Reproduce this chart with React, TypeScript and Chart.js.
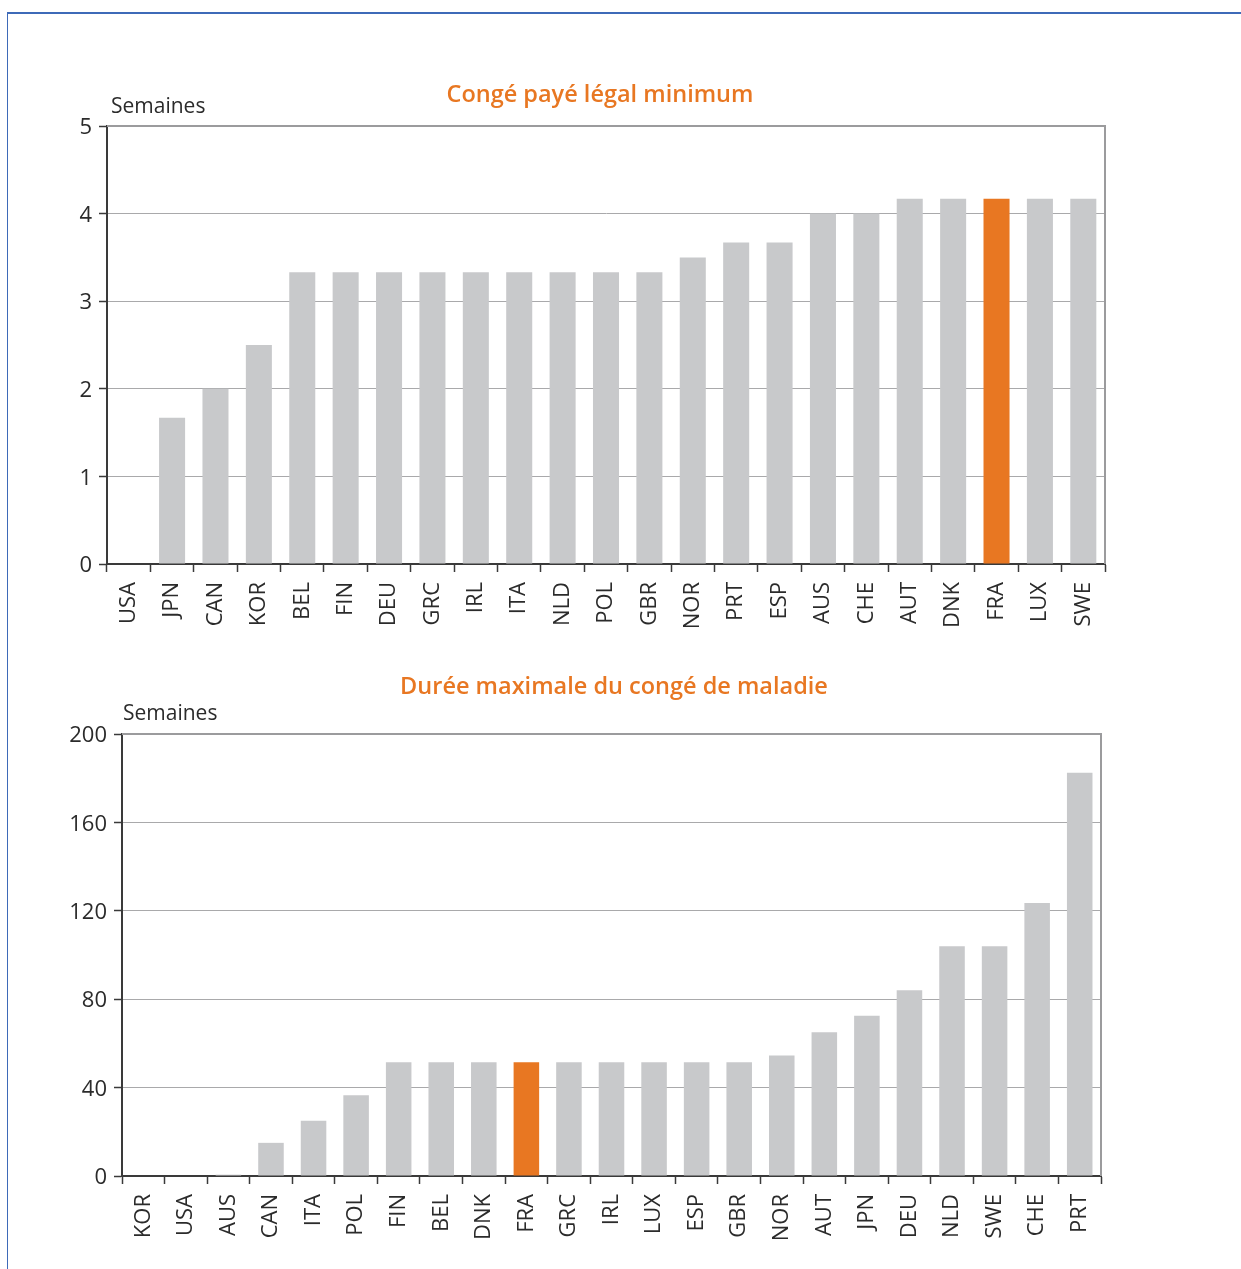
import React, { useEffect, useRef } from 'react';
import { Chart, registerables } from 'chart.js';

Chart.register(...registerables);

// ---- Data ----
const leaveTitle = 'Congé payé légal minimum';
const leaveCountries = ['USA', 'JPN', 'CAN', 'KOR', 'BEL', 'FIN', 'DEU', 'GRC', 'IRL', 'ITA', 'NLD', 'POL', 'GBR', 'NOR', 'PRT', 'ESP', 'AUS', 'CHE', 'AUT', 'DNK', 'FRA', 'LUX', 'SWE'];
const leaveWeeks = [0, 1.67, 2, 2.5, 3.33, 3.33, 3.33, 3.33, 3.33, 3.33, 3.33, 3.33, 3.33, 3.5, 3.67, 3.67, 4, 4, 4.17, 4.17, 4.17, 4.17, 4.17];
const leaveTicks = [0, 1, 2, 3, 4, 5];

const sickTitle = 'Durée maximale du congé de maladie';
const sickCountries = ['KOR', 'USA', 'AUS', 'CAN', 'ITA', 'POL', 'FIN', 'BEL', 'DNK', 'FRA', 'GRC', 'IRL', 'LUX', 'ESP', 'GBR', 'NOR', 'AUT', 'JPN', 'DEU', 'NLD', 'SWE', 'CHE', 'PRT'];
const sickWeeks = [0, 0, 0.6, 15, 25, 36.5, 51.5, 51.5, 51.5, 51.5, 51.5, 51.5, 51.5, 51.5, 51.5, 54.5, 65, 72.5, 84, 104, 104, 123.5, 182.5];
const sickTicks = [0, 40, 80, 120, 160, 200];

const unitLabel = 'Semaines';
const highlightCountry = 'FRA';

// ---- Styles ----
const FONT = '"Open Sans", "Noto Sans", sans-serif';
const GREY_BAR = '#c8c9cb';
const ORANGE = '#e87722';
const AXIS = '#3a3a3a';
const GRID = '#a9a9ab';
const TEXT = '#2b2b2b';

const decorPlugin = {
  id: 'decor',
  afterDraw(chart: any, _args: any, opts: any) {
    const { ctx, chartArea: a } = chart;
    ctx.save();
    ctx.strokeStyle = '#9b9b9d';
    ctx.lineWidth = 2;
    ctx.beginPath();
    ctx.moveTo(a.left, a.top);
    ctx.lineTo(a.right, a.top);
    ctx.lineTo(a.right, a.bottom);
    ctx.stroke();

    ctx.fillStyle = ORANGE;
    ctx.font = `600 23.5px ${FONT}`;
    ctx.textAlign = 'center';
    ctx.textBaseline = 'middle';
    ctx.fillText(opts.title, opts.titleX, a.top + opts.titleDy);

    ctx.fillStyle = TEXT;
    ctx.font = `21px ${FONT}`;
    ctx.textAlign = 'left';
    ctx.fillText(unitLabel, a.left + opts.unitDx, a.top + opts.unitDy);
    ctx.restore();
  },
};

type Spec = {
  title: string;
  labels: string[];
  values: number[];
  ticks: number[];
  top: number;
  height: number;
  padTop: number;
  padRight: number;
  yWidth: number;
  xHeight: number;
  titleX: number;
  titleDy: number;
  unitDx: number;
  unitDy: number;
};

function BarPanel({ spec }: { spec: Spec }) {
  const ref = useRef<HTMLCanvasElement | null>(null);
  useEffect(() => {
    if (!ref.current) return;
    const chart = new Chart(ref.current, {
      type: 'bar',
      data: {
        labels: spec.labels,
        datasets: [
          {
            data: spec.values,
            backgroundColor: spec.labels.map((c) => (c === highlightCountry ? ORANGE : GREY_BAR)),
            borderWidth: 0,
            categoryPercentage: 1,
            barPercentage: 0.6,
          },
        ],
      },
      options: {
        responsive: false,
        animation: false,
        events: [],
        layout: { padding: { top: spec.padTop, right: spec.padRight, left: 0, bottom: 0 } },
        plugins: {
          legend: { display: false },
          tooltip: { enabled: false },
          title: { display: false },
          decor: {
            title: spec.title,
            titleX: spec.titleX,
            titleDy: spec.titleDy,
            unitDx: spec.unitDx,
            unitDy: spec.unitDy,
          },
        } as any,
        scales: {
          x: {
            grid: {
              display: true,
              offset: true,
              drawOnChartArea: false,
              drawTicks: true,
              tickLength: 8,
              tickColor: AXIS,
              tickWidth: 1.5,
            },
            border: { display: true, color: AXIS, width: 2 },
            ticks: {
              autoSkip: false,
              minRotation: 90,
              maxRotation: 90,
              padding: 10,
              color: TEXT,
              font: { family: FONT, size: 22 },
            },
            afterFit: (scale: any) => {
              scale.height = spec.xHeight;
            },
          },
          y: {
            min: spec.ticks[0],
            max: spec.ticks[spec.ticks.length - 1],
            afterBuildTicks: (scale: any) => {
              scale.ticks = spec.ticks.map((v) => ({ value: v }));
            },
            grid: {
              color: GRID,
              lineWidth: 1,
              tickColor: AXIS,
              tickLength: 8,
              tickWidth: 1.5,
            },
            border: { display: true, color: AXIS, width: 2 },
            ticks: {
              padding: 7,
              labelOffset: 2,
              color: TEXT,
              font: { family: FONT, size: 22 },
            },
            afterFit: (scale: any) => {
              scale.width = spec.yWidth;
            },
          },
        },
      },
      plugins: [decorPlugin],
    });
    return () => chart.destroy();
  }, [spec]);

  return (
    <canvas
      ref={ref}
      width={1241}
      height={spec.height}
      style={{ position: 'absolute', left: 0, top: spec.top, width: 1241, height: spec.height }}
    />
  );
}

const leaveSpec: Spec = {
  title: leaveTitle,
  labels: leaveCountries,
  values: leaveWeeks,
  ticks: leaveTicks,
  top: 60,
  height: 600,
  padTop: 66,
  padRight: 136,
  yWidth: 107,
  xHeight: 96,
  titleX: 600,
  titleDy: -31,
  unitDx: 4,
  unitDy: -19,
};

const sickSpec: Spec = {
  title: sickTitle,
  labels: sickCountries,
  values: sickWeeks,
  ticks: sickTicks,
  top: 660,
  height: 609,
  padTop: 74,
  padRight: 140,
  yWidth: 122,
  xHeight: 93,
  titleX: 614,
  titleDy: -47,
  unitDx: 1,
  unitDy: -20,
};

export default function App() {
  return (
    <div
      style={{
        position: 'fixed',
        left: 0,
        top: 0,
        width: 1241,
        height: 1269,
        background: '#ffffff',
        overflow: 'hidden',
      }}
    >
      <div
        style={{
          position: 'absolute',
          left: 7,
          top: 12,
          right: 0,
          bottom: 0,
          borderTop: '2px solid #3e6ab8',
          borderLeft: '1px solid #3e6ab8',
        }}
      />
      <BarPanel spec={leaveSpec} />
      <BarPanel spec={sickSpec} />
    </div>
  );
}
